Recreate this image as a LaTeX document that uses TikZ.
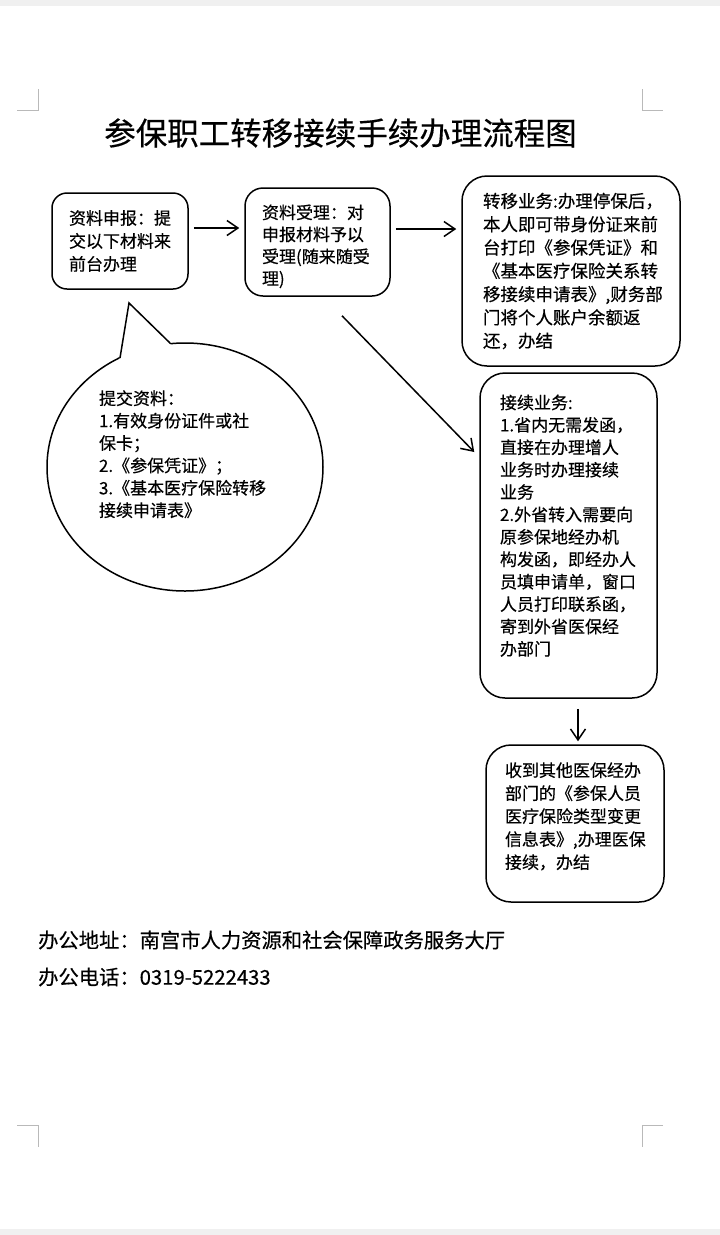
\documentclass[tikz,border=0pt]{standalone}
\usepackage{fontspec}
\setmainfont{Noto Sans CJK SC}[FakeBold=0.4]
\usetikzlibrary{arrows.meta, shapes.geometric, positioning}

\begin{document}
\begin{tikzpicture}[x=1pt, y=-1pt,
    stepbox/.style={draw, line width=1.5pt, rounded corners=15pt, align=left,
        inner xsep=0pt, inner ysep=0pt, font=\fontsize{17}{23}\selectfont},
    flow/.style={-{Straight Barb[length=11pt, width=15pt]}, line width=1.5pt},
    cropmark/.style={gray!55, line width=1pt}]
    \useasboundingbox (0,0) rectangle (720,1235);
    % Page edges
    \fill[gray!12] (0,0) rectangle (720,6);
    \fill[gray!12] (0,1229) rectangle (720,1235);
    % Crop marks
    \draw[cropmark] (17,110) -- (38,110) -- (38,89);
    \draw[cropmark] (642,89) -- (642,110) -- (663,110);
    \draw[cropmark] (17,1125) -- (38,1125) -- (38,1147);
    \draw[cropmark] (663,1125) -- (642,1125) -- (642,1147);

    % Title
    \node[font=\fontsize{31.5}{36}\selectfont] (title) at (340.5,133) {参保职工转移接续手续办理流程图};

    % Boxes
    \node[stepbox, text width=102pt, minimum width=136pt, minimum height=96pt] (declare) at (120,241)
        {资料申报：提\\交以下材料来\\前台办理};
    \node[stepbox, rounded corners=18pt, font=\fontsize{17}{22}\selectfont, text width=111pt,
        minimum width=145pt, minimum height=108pt] (accept) at (317.5,242)
        {\rule{0pt}{23pt}资料受理：对\\申报材料予以\\受理(随来随受\\理)};
    \node[stepbox, rounded corners=25pt, font=\fontsize{17.5}{23.3}\selectfont, text width=176pt,
        minimum width=218pt, minimum height=190pt] (transfer) at (571,271)
        {转移业务:办理停保后，\\本人即可带身份证来前\\台打印《参保凭证》和\\《基本医疗保险关系转\\移接续申请表》,财务部\\门将个人账户余额返\\还，办结};
    \node[stepbox, rounded corners=25pt, font=\fontsize{17}{22.4}\selectfont, text width=137pt,
        minimum width=177pt, minimum height=325pt] (renew) at (568.5,535.5)
        {接续业务:\\1.省内无需发函，\\直接在办理增人\\业务时办理接续\\业务\\2.外省转入需要向\\原参保地经办机\\构发函，即经办人\\员填申请单，窗口\\人员打印联系函，\\寄到外省医保经\\办部门\rule[-21pt]{0pt}{21pt}};
    \node[stepbox, rounded corners=25pt, text width=140pt,
        minimum width=178pt, minimum height=157pt] (finish) at (575,823.5)
        {收到其他医保经办\\部门的《参保人员\\医疗保险类型变更\\信息表》,办理医保\\接续，办结\rule[-16pt]{0pt}{16pt}};

    % Speech bubble
    \node[draw, ellipse, line width=1.5pt, fill=white, minimum width=276pt, minimum height=248pt,
        inner sep=0pt, align=left, text width=172pt, font=\fontsize{17}{22.4}\selectfont] (materials) at (185,467)
        {提交资料：\\1.有效身份证件或社\\保卡；\\2.《参保凭证》；\\3.《基本医疗保险转移\\接续申请表》\rule[-27pt]{0pt}{27pt}};
    \fill[white] (119,362) -- (129,303) -- (172,346) -- (145,353) -- cycle;
    \draw[line width=1.5pt] (120,358) -- (129,303) -- (170,343);

    % Arrows
    \draw[flow] ([xshift=5pt,yshift=13pt]declare.east) -- ([xshift=-5pt,yshift=14pt]accept.west);
    \draw[flow] ([xshift=5pt,yshift=13pt]accept.east) -- ([xshift=-5pt,yshift=42pt]transfer.west);
    \draw[flow] ([xshift=24.5pt,yshift=-19pt]accept.south) -- ([xshift=-5pt,yshift=83.5pt]renew.west);
    \draw[flow] ([xshift=9.5pt,yshift=-10pt]renew.south) -- ([xshift=3pt,yshift=3pt]finish.north);

    % Office info
    \node[anchor=west, inner sep=0pt, font=\fontsize{20.3}{24}\selectfont] (address) at (38,940)
        {办公地址：南宫市人力资源和社会保障政务服务大厅};
    \node[anchor=west, inner sep=0pt, font=\fontsize{20.3}{24}\selectfont] (phone) at (38,977)
        {办公电话：0319-5222433};
\end{tikzpicture}
\end{document}
